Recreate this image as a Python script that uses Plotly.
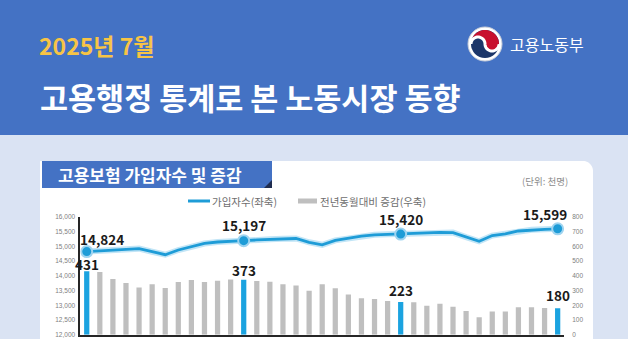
import math
import pandas as pd
import plotly.graph_objects as go

W, H = 628, 339

# Months: July 2022 .. July 2025
months = [p.strftime("%Y-%m") for p in pd.period_range("2022-07", "2025-07", freq="M")]

# Employment-insurance subscribers (thousand persons, left axis)
subscribers = [14824, 14855, 14880, 14912, 14925, 14820, 14718, 14878, 14990, 15100, 15150, 15185,
               15197, 15220, 15240, 15260, 15270, 15140, 15055, 15205, 15280, 15350, 15395, 15412,
               15420, 15435, 15445, 15480, 15470, 15315, 15174, 15370, 15430, 15525, 15565, 15580, 15599]

# Year-on-year change (thousand persons, right axis)
yoy_change = [431, 426, 379, 351, 320, 343, 318, 358, 372, 358, 367, 376,
              373, 365, 360, 343, 335, 299, 343, 315, 274, 247, 243, 229,
              223, 220, 196, 210, 190, 161, 119, 157, 157, 186, 186, 182, 180]

# July of each year is highlighted
highlight = [0, 12, 24, 36]

left_ticks = list(range(12000, 16001, 500))
right_ticks = list(range(0, 801, 100))

BLUE_BANNER = "#4472C4"
BG = "#DAE3F3"
LINE_BLUE = "#1E9CD7"
BAR_BLUE = "#1BA3E0"
BAR_GRAY = "#BFBFBF"
KR = "Noto Sans CJK KR"


def px(x):
    return x / W


def py(y):
    return 1 - y / H


def poly_path(points):
    return "M " + " L ".join(f"{px(x):.5f},{py(y):.5f}" for x, y in points) + " Z"


def arc(cx, cy, r, a0, a1, n=24):
    return [(cx + r * math.cos(math.radians(a0 + (a1 - a0) * i / n)),
             cy - r * math.sin(math.radians(a0 + (a1 - a0) * i / n))) for i in range(n + 1)]


fig = go.Figure()

bar_colors = [BAR_BLUE if i in highlight else BAR_GRAY for i in range(len(months))]
fig.add_trace(go.Bar(x=months, y=yoy_change, yaxis="y2", marker=dict(color=bar_colors, line=dict(width=0)),
                     width=0.4, showlegend=False, hoverinfo="skip"))

# soft halo under the subscriber line
fig.add_trace(go.Scatter(x=months, y=subscribers, mode="lines", line=dict(color="#A8DAF3", width=6),
                         opacity=0.7, showlegend=False, hoverinfo="skip"))
fig.add_trace(go.Scatter(x=months, y=subscribers, mode="lines", line=dict(color=LINE_BLUE, width=2.8),
                         showlegend=False, hoverinfo="skip"))
fig.add_trace(go.Scatter(x=[months[i] for i in highlight], y=[subscribers[i] for i in highlight],
                         mode="markers", marker=dict(size=11, color=LINE_BLUE, line=dict(color="#9FD4F0", width=2)),
                         showlegend=False, hoverinfo="skip"))

shapes = []
# header banner
shapes.append(dict(type="rect", xref="paper", yref="paper", x0=0, x1=1, y0=py(135), y1=1,
                   fillcolor=BLUE_BANNER, line=dict(width=0), layer="below"))
# white card with rounded top-right corner
card = [(40, 345), (40, 161)] + arc(583, 171, 10, 90, 0, 12) + [(593, 345)]
shapes.append(dict(type="path", xref="paper", yref="paper", path=poly_path(card),
                   fillcolor="white", line=dict(width=0), layer="below"))
# section label box
shapes.append(dict(type="rect", xref="paper", yref="paper", x0=px(42), x1=px(272), y0=py(188), y1=py(161),
                   fillcolor=BLUE_BANNER, line=dict(width=0), layer="below"))
shapes.append(dict(type="path", xref="paper", yref="paper",
                   path=poly_path([(272, 180), (272, 188), (264, 188)]),
                   fillcolor="#1F2D50", line=dict(width=0), layer="below"))
# legend swatches
shapes.append(dict(type="line", xref="paper", yref="paper", x0=px(188), x1=px(210), y0=py(201), y1=py(201),
                   line=dict(color=LINE_BLUE, width=3)))
shapes.append(dict(type="rect", xref="paper", yref="paper", x0=px(298), x1=px(317), y0=py(203.5), y1=py(198.5),
                   fillcolor=BAR_GRAY, line=dict(width=0)))

# ministry emblem
cx, cy, r = 485, 44, 17
shapes.append(dict(type="circle", xref="paper", yref="paper", x0=px(cx - r), x1=px(cx + r), y0=py(cy + r), y1=py(cy - r),
                   fillcolor="white", line=dict(color="#C9CED8", width=1)))
ri = 14
shapes.append(dict(type="circle", xref="paper", yref="paper", x0=px(cx - ri), x1=px(cx + ri), y0=py(cy + ri), y1=py(cy - ri),
                   fillcolor="#1C3669", line=dict(width=0)))
red = arc(cx, cy, ri, 180, 0) + arc(cx + ri / 2, cy, ri / 2, 0, -180) + arc(cx - ri / 2, cy, ri / 2, 0, 180)
shapes.append(dict(type="path", xref="paper", yref="paper", path=poly_path(red),
                   fillcolor="#C8102E", line=dict(width=0)))
swirl = arc(cx + ri / 2, cy, ri / 2, 0, -180) + arc(cx - ri / 2, cy, ri / 2, 0, 180)
shapes.append(dict(type="path", xref="paper", yref="paper",
                   path="M " + " L ".join(f"{px(x):.5f},{py(y):.5f}" for x, y in swirl),
                   line=dict(color="white", width=3)))

ann = []
ann.append(dict(text="<b>2025년 7월</b>", x=px(37), y=py(45), xanchor="left", yanchor="middle",
                font=dict(family=KR, size=23, color="#F7C446")))
ann.append(dict(text="<b>고용행정 통계로 본 노동시장 동향</b>", x=px(38), y=py(97), xanchor="left", yanchor="middle",
                font=dict(family=KR, size=30.5, color="white")))
ann.append(dict(text="고용노동부", x=px(508), y=py(44), xanchor="left", yanchor="middle",
                font=dict(family=KR, size=16, color="white")))
ann.append(dict(text="<b>고용보험 가입자수 및 증감</b>", x=px(56), y=py(174.5), xanchor="left", yanchor="middle",
                font=dict(family=KR, size=17, color="white")))
ann.append(dict(text="(단위: 천명)", x=px(570), y=py(181), xanchor="right", yanchor="middle",
                font=dict(family=KR, size=9.5, color="#8C8C8C")))
ann.append(dict(text="가입자수(좌축)", x=px(210), y=py(201), xanchor="left", yanchor="middle",
                font=dict(family=KR, size=10.5, color="#6E6E6E")))
ann.append(dict(text="전년동월대비 증감(우축)", x=px(318), y=py(201), xanchor="left", yanchor="middle",
                font=dict(family=KR, size=10.5, color="#6E6E6E")))

line_shift = {0: (15, 13), 12: (0, 16), 24: (0, 15), 36: (-13, 15)}
bar_shift = {0: 7, 12: 10, 24: 12, 36: 13}
for i in highlight:
    dx, dy = line_shift[i]
    ann.append(dict(text=f"<b>{subscribers[i]:,}</b>", x=months[i], y=subscribers[i], xref="x", yref="y",
                    xanchor="center", yanchor="middle", xshift=dx, yshift=dy, showarrow=False,
                    font=dict(family=KR, size=13.5, color="#1A1A1A")))
    ann.append(dict(text=f"<b>{yoy_change[i]:,}</b>", x=months[i], y=yoy_change[i], xref="x", yref="y2",
                    xanchor="center", yanchor="middle", xshift=0, yshift=bar_shift[i],
                    showarrow=False, font=dict(family=KR, size=13.5, color="#1A1A1A")))

for a in ann:
    a.setdefault("xref", "paper")
    a.setdefault("yref", "paper")
    a.setdefault("showarrow", False)

fig.update_layout(
    width=W, height=H, margin=dict(l=0, r=0, t=0, b=0),
    paper_bgcolor=BG, plot_bgcolor="rgba(0,0,0,0)",
    bargap=0.6, showlegend=False,
    shapes=shapes, annotations=ann,
    xaxis=dict(domain=[px(80.2), px(564.2)], type="category", range=[-0.5, len(months) - 0.5],
               showticklabels=False, ticks="", automargin=False,
               showgrid=False, zeroline=False, showline=True, linecolor="#262626", linewidth=1.5),
    yaxis=dict(domain=[py(334.7), py(217)], range=[12000, 16000], tickvals=left_ticks, automargin=False,
               ticktext=[f"{v:,}" for v in left_ticks], showgrid=False, zeroline=False,
               showline=True, linecolor="#262626", linewidth=1.5, ticks="", ticklabelstandoff=2,
               tickfont=dict(family="Liberation Sans", size=6.5, color="#808080")),
    yaxis2=dict(overlaying="y", side="right", range=[0, 800], tickvals=right_ticks, automargin=False,
                showgrid=False, zeroline=False, showline=False, ticks="", ticklabelstandoff=7,
                tickfont=dict(family="Liberation Sans", size=6.5, color="#808080")),
)

fig.write_html("out.html")
